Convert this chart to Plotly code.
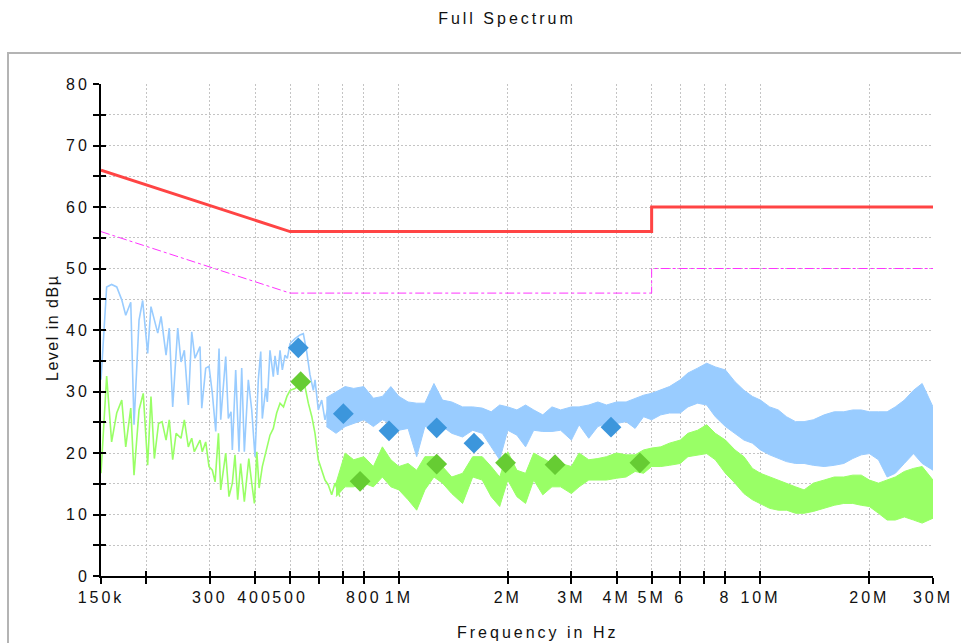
import math
import plotly.graph_objects as go

# ---------------- data (frequency in MHz, level in dBuV) ----------------
limit_f = [0.15, 0.5, 5.0, 5.0, 30.0]
qp_limit = [66, 56, 56, 60, 60]
av_limit = [56, 46, 46, 50, 50]

# peak trace, individually resolved part (150 kHz .. 640 kHz)
peak_line_f = [0.150, 0.1555, 0.1605, 0.1658, 0.1712, 0.1756, 0.1813, 0.1851, 0.1911, 0.1956,
               0.2019, 0.2062, 0.2153, 0.2199, 0.2270, 0.2317, 0.2368, 0.2445, 0.2497, 0.2550,
               0.2616, 0.2673, 0.2729, 0.2818, 0.2849, 0.2922, 0.2984, 0.3048, 0.3115, 0.3181,
               0.3215, 0.3319, 0.3375, 0.3433, 0.3462, 0.3537, 0.3612, 0.3675, 0.3737, 0.3833,
               0.3917, 0.3999, 0.4085, 0.4148, 0.4190, 0.4282, 0.4326, 0.4400, 0.4494, 0.4543,
               0.4622, 0.4691, 0.4760, 0.4842, 0.4914, 0.4998, 0.5160, 0.5327, 0.5440, 0.5559,
               0.5677, 0.5798, 0.5861, 0.5985, 0.6116, 0.6245, 0.6378]
peak_line_v = [31.9, 47.0, 47.4, 47.0, 44.9, 42.4, 44.5, 24.6, 41.6, 44.8,
               36.2, 43.8, 39.5, 42.2, 35.9, 40.3, 27.5, 40.3, 34.8, 36.7,
               27.8, 39.7, 35.4, 37.3, 27.3, 33.8, 34.1, 29.7, 23.5, 37.0,
               25.4, 35.7, 25.6, 26.7, 20.5, 33.5, 20.2, 33.8, 20.2, 31.9,
               27.0, 19.4, 31.9, 36.5, 25.6, 30.5, 28.3, 36.7, 32.4, 35.8,
               32.7, 36.7, 33.5, 35.9, 35.4, 37.8, 38.6, 39.2, 39.4, 36.5,
               32.7, 30.2, 31.9, 27.0, 28.6, 25.4, 27.5]

# average trace, individually resolved part (150 kHz .. 690 kHz)
avg_line_f = [0.150, 0.1555, 0.1605, 0.1658, 0.1712, 0.1756, 0.1813, 0.1851, 0.1911, 0.1963,
              0.2019, 0.2062, 0.2107, 0.2164, 0.2213, 0.2270, 0.2317, 0.2368, 0.2420, 0.2497,
              0.2550, 0.2616, 0.2673, 0.2718, 0.2818, 0.2859, 0.2922, 0.2984, 0.3048, 0.3102,
              0.3169, 0.3215, 0.3319, 0.3389, 0.3462, 0.3521, 0.3582, 0.3650, 0.3737, 0.3845,
              0.3917, 0.3984, 0.4047, 0.4106, 0.4190, 0.4282, 0.4400, 0.4494, 0.4591, 0.4691,
              0.4795, 0.4901, 0.5000, 0.5160, 0.5327, 0.5498, 0.5617, 0.5744, 0.5861, 0.5985,
              0.6116, 0.6245, 0.6378, 0.6518, 0.6657, 0.6869]
avg_line_v = [16.7, 32.5, 21.8, 26.5, 28.6, 21.0, 27.3, 16.4, 27.0, 29.7,
              18.0, 29.2, 19.1, 24.8, 25.1, 22.1, 25.4, 18.9, 23.2, 22.4,
              25.4, 21.0, 22.4, 20.2, 22.1, 20.2, 21.8, 17.8, 17.2, 15.3,
              23.2, 14.0, 20.0, 12.9, 15.1, 19.7, 12.4, 18.3, 12.1, 19.1,
              15.1, 11.8, 20.2, 14.3, 17.8, 20.0, 22.9, 24.0, 26.5, 28.1,
              27.5, 29.2, 30.2, 30.5, 31.1, 30.8, 28.1, 25.9, 23.2, 18.9,
              17.0, 15.6, 14.8, 13.2, 15.1, 12.9]

# dense part of the sweeps: upper / lower edge of the noise band
band_f = [0.63, 0.67, 0.71, 0.75, 0.8, 0.85, 0.9, 0.95,
          1.0, 1.06, 1.12, 1.18, 1.25, 1.32, 1.4, 1.5, 1.6, 1.7, 1.8, 1.9,
          2.0, 2.12, 2.24, 2.36, 2.5, 2.65, 2.8, 3.0, 3.15, 3.35, 3.55, 3.75, 4.0, 4.25,
          4.5, 4.75, 5.0, 5.3, 5.6, 6.0, 6.3, 6.7, 7.1, 7.5, 8.0, 8.5, 9.0, 9.5,
          10, 10.6, 11.2, 11.8, 12.5, 13.2, 14, 15, 16, 17, 18, 19, 20, 21.2, 22.4, 23.6,
          25, 26.5, 28, 30]
peak_top = [29.0, 30.0, 30.8, 30.5, 30.8, 28.9, 29.2, 30.8,
            29.2, 28.3, 28.1, 28.1, 31.3, 28.6, 28.3, 27.5, 27.5, 27.3, 26.7, 27.8,
            27.5, 27.0, 27.8, 27.0, 26.2, 27.5, 27.0, 27.5, 27.5, 27.8, 28.3, 27.8, 28.3, 28.3,
            28.9, 29.4, 29.7, 30.2, 30.8, 31.9, 33.0, 33.8, 34.6, 34.0, 33.5, 31.6, 30.2, 29.2,
            28.6, 27.5, 27.0, 25.9, 25.1, 25.1, 25.4, 26.2, 26.7, 26.7, 27.0, 27.0, 26.7, 26.7,
            26.7, 27.5, 28.6, 30.2, 31.3, 27.5]
peak_bottom = [24.3, 23.2, 24.3, 24.8, 25.4, 24.3, 25.4, 24.8,
               23.7, 24.0, 19.4, 24.3, 24.3, 24.3, 23.2, 22.6, 23.7, 23.2, 21.0, 18.9,
               23.7, 22.9, 21.0, 23.7, 23.5, 23.5, 23.7, 22.1, 24.6, 22.4, 24.3, 24.8, 24.8, 25.1,
               24.0, 25.9, 25.4, 26.2, 26.5, 26.5, 27.5, 28.1, 27.8, 25.9, 24.3, 23.2, 22.1, 21.6,
               20.5, 19.7, 19.1, 18.6, 18.3, 18.3, 18.0, 17.8, 18.0, 18.3, 19.1, 19.7, 19.9, 18.9,
               16.1, 16.7, 18.3, 19.9, 18.3, 17.2]
avg_band_f = band_f[1:]
avg_top = [15.1, 20.0, 18.9, 19.4, 17.8, 21.0, 18.9,
           17.8, 18.3, 17.2, 19.4, 19.4, 17.8, 16.1, 16.7, 19.4, 19.4, 17.8, 16.1,
           20.2, 17.2, 16.7, 20.0, 19.1, 18.3, 18.3, 17.8, 20.0, 18.9, 19.1, 19.4, 20.0, 19.7,
           19.7, 20.5, 20.8, 21.0, 21.6, 22.1, 23.2, 23.7, 24.6, 23.2, 22.1, 20.5, 19.4, 17.5,
           16.7, 16.1, 15.6, 15.1, 14.5, 14.0, 15.1, 15.6, 16.1, 16.1, 16.4, 16.4, 15.6, 15.1,
           15.6, 16.1, 17.0, 17.5, 17.8, 15.6]
avg_bottom = [12.9, 14.5, 14.5, 15.1, 14.5, 16.1, 14.5,
              14.0, 12.4, 10.7, 14.0, 16.1, 15.1, 13.4, 11.8, 16.1, 15.6, 12.9, 11.3,
              15.6, 12.9, 11.8, 15.6, 13.2, 14.5, 14.5, 13.4, 14.5, 15.6, 15.6, 15.6, 15.9, 16.1,
              17.0, 16.7, 17.8, 17.8, 18.0, 18.3, 19.4, 19.7, 19.9, 18.9, 16.7, 15.1, 13.4, 12.4,
              11.8, 11.0, 10.7, 10.7, 10.2, 10.2, 10.5, 11.0, 11.5, 11.8, 11.8, 11.5, 11.3, 10.2,
              9.1, 9.1, 9.6, 9.1, 8.6, 9.4]

# final (quasi-peak / average) measurements
qp_f = [0.527, 0.702, 0.939, 1.272, 1.613, 3.86]
qp_v = [37.1, 26.4, 23.6, 24.1, 21.6, 24.2]
av_f = [0.535, 0.781, 1.272, 1.972, 2.703, 4.64]
av_v = [31.6, 15.4, 18.2, 18.4, 18.1, 18.4]

# axis ticks
x_tickvals = [0.15, 0.2, 0.3, 0.4, 0.5, 0.6, 0.7, 0.8, 1, 2, 3, 4, 5, 6, 7, 8, 10, 20, 30]
x_ticktext = ["150k", "", "300", "400", "500", "", "", "800", "1M", "2M", "3M", "4M", "5M",
              "6", "", "8", "10M", "20M", "30M"]
y_tickvals = [0, 5, 10, 15, 20, 25, 30, 35, 40, 45, 50, 55, 60, 65, 70, 75, 80]
y_ticktext = ["0", "", "10", "", "20", "", "30", "", "40", "", "50", "", "60", "", "70", "", "80"]

title_text = "Full Spectrum"
x_title = "Frequency in Hz"
y_title = "Level in dBµ"

# ---------------- styling ----------------
FONT = "Liberation Sans, Arial, sans-serif"
PEAK_C = "#99ccff"
AVG_C = "#99ff66"
GRID_C = "#c4c4c4"


def spaced(t, px):
    return f'<span style="letter-spacing:{px}px">{t}</span>' if t else ""


fig = go.Figure()

# peak band + line
fig.add_trace(go.Scatter(x=band_f, y=peak_bottom, mode="lines",
                         line=dict(color=PEAK_C, width=1), hoverinfo="skip"))
fig.add_trace(go.Scatter(x=band_f, y=peak_top, mode="lines", fill="tonexty",
                         fillcolor=PEAK_C, line=dict(color=PEAK_C, width=1), hoverinfo="skip"))
fig.add_trace(go.Scatter(x=peak_line_f, y=peak_line_v, mode="lines",
                         line=dict(color=PEAK_C, width=1.6)))
# average band + line
fig.add_trace(go.Scatter(x=avg_band_f, y=avg_bottom, mode="lines",
                         line=dict(color=AVG_C, width=1), hoverinfo="skip"))
fig.add_trace(go.Scatter(x=avg_band_f, y=avg_top, mode="lines", fill="tonexty",
                         fillcolor=AVG_C, line=dict(color=AVG_C, width=1), hoverinfo="skip"))
fig.add_trace(go.Scatter(x=avg_line_f, y=avg_line_v, mode="lines",
                         line=dict(color=AVG_C, width=1.6)))
# limits
fig.add_trace(go.Scatter(x=limit_f, y=qp_limit, mode="lines",
                         line=dict(color="#ff4444", width=3)))
fig.add_trace(go.Scatter(x=limit_f, y=av_limit, mode="lines",
                         line=dict(color="#ff33ff", width=1, dash="dashdot")))
# final measurements
fig.add_trace(go.Scatter(x=qp_f, y=qp_v, mode="markers",
                         marker=dict(symbol="diamond", size=16, color="#3c96dc", line=dict(width=0))))
fig.add_trace(go.Scatter(x=av_f, y=av_v, mode="markers",
                         marker=dict(symbol="diamond", size=16, color="#66cc33", line=dict(width=0))))
# dummy trace carrying the overlay axes (for ticks crossing the axis line)
fig.add_trace(go.Scatter(x=[None], y=[None], xaxis="x2", yaxis="y2", mode="lines",
                         hoverinfo="skip"))

xr = [math.log10(0.15), math.log10(30)]
yr = [0, 80]
tickfont = dict(family=FONT, size=16, color="#111111")

fig.update_layout(
    width=961, height=643,
    margin=dict(l=101, r=28, t=84, b=67, autoexpand=False),
    paper_bgcolor="white", plot_bgcolor="white",
    showlegend=False,
    font=dict(family=FONT, color="#111111"),
    title=dict(text=spaced(title_text, 3), x=507 / 961, xanchor="center",
               y=1 - 18 / 643, yanchor="middle", xref="container", yref="container",
               font=dict(family=FONT, size=16, color="#111111")),
    xaxis=dict(type="log", range=xr, tickvals=x_tickvals, automargin=False,
               ticktext=[spaced(t, 3) for t in x_ticktext], tickangle=0,
               ticks="outside", ticklen=6, tickwidth=2, tickcolor="black",
               showline=True, linecolor="black", linewidth=2,
               showgrid=True, gridcolor=GRID_C, griddash="2px,2px", gridwidth=1,
               zeroline=False, tickfont=tickfont, fixedrange=True),
    yaxis=dict(range=yr, tickvals=y_tickvals, automargin=False,
               ticktext=[spaced(t, 3) for t in y_ticktext], tickangle=0,
               ticks="outside", ticklen=6, tickwidth=2, tickcolor="black",
               showline=True, linecolor="black", linewidth=2,
               showgrid=True, gridcolor=GRID_C, griddash="2px,2px", gridwidth=1,
               zeroline=False, tickfont=tickfont, fixedrange=True),
    xaxis2=dict(type="log", range=xr, overlaying="x", anchor="y", side="bottom",
                tickvals=x_tickvals, ticks="inside", ticklen=5, tickwidth=2, tickcolor="black",
                showticklabels=False, showgrid=False, showline=False, zeroline=False,
                automargin=False, fixedrange=True),
    yaxis2=dict(range=yr, overlaying="y", anchor="x", side="left",
                tickvals=y_tickvals, ticks="inside", ticklen=5, tickwidth=2, tickcolor="black",
                showticklabels=False, showgrid=False, showline=False, zeroline=False,
                automargin=False, fixedrange=True),
    annotations=[
        dict(text=spaced(x_title, 3), xref="paper", yref="paper",
             x=(538 - 101) / 832, y=-(632 - 576) / 492, xanchor="center", yanchor="middle",
             showarrow=False, font=dict(family=FONT, size=16, color="#111111")),
        dict(text=spaced(y_title, 1.5), xref="paper", yref="paper",
             x=(52 - 101) / 832, y=(576 - 328) / 492, xanchor="center", yanchor="middle",
             textangle=-90, showarrow=False, font=dict(family=FONT, size=16, color="#111111")),
    ],
    shapes=[
        dict(type="rect", xref="paper", yref="paper",
             x0=(8 - 101) / 832, x1=(975 - 101) / 832,
             y0=(576 - 660) / 492, y1=(576 - 53) / 492,
             line=dict(color="#b4b4b4", width=2), fillcolor="rgba(0,0,0,0)", layer="below"),
    ],
)

fig.write_html("out.html", config={"displayModeBar": False},
               post_script="document.body.style.margin='0';document.body.style.overflow='hidden';")
